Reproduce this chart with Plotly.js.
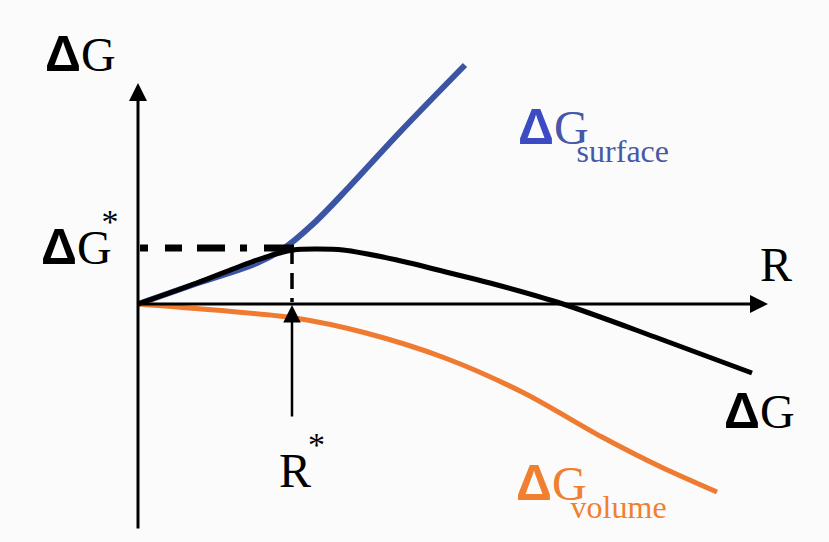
<!DOCTYPE html>
<html>
<head>
<meta charset="utf-8">
<script src="https://cdn.plot.ly/plotly-3.0.1.min.js"></script>
<style>html,body{margin:0;padding:0;background:#fbfbfb}</style>
</head>
<body>
<div id="chart" style="width:829px;height:542px"></div>
<script>
// radius R and free energy terms, arbitrary units
var rSurface = [0, 6, 11.9, 14.5, 17.5, 21.2, 26.2, 32.7];
var gSurface = [0, 2.1, 4.1, 5.5, 8.0, 11.8, 17.2, 23.9];

var rTotal = [0, 5.9, 11.9, 15.5, 17.9, 20.5, 25.9, 31.2, 35.2, 42.5, 51.7, 61.4];
var gTotal = [0, 2.1, 4.4, 5.4, 5.5, 5.4, 4.4, 3.1, 2.1, 0, -3.3, -6.9];

var rVolume = [0, 5.1, 15.7, 22.8, 30.7, 38.6, 46.4, 52.3, 57.9];
var gVolume = [0, -0.4, -1.4, -2.9, -5.4, -8.9, -13.3, -16.3, -18.8];

// critical radius and barrier height
var rStar = 15.4;
var gStar = 5.6;

var serif = 'Liberation Serif, Times New Roman, serif';
var delta = '<span style="font-family:Liberation Sans;font-weight:bold;font-size:50px">\u0394</span>';

function sub(g, text, gap) {
  return g + '<span style="letter-spacing:' + gap + 'px">G</span>' +
    '<span style="font-size:32px;baseline-shift:-18px">' + text + '</span>';
}
function star(g, gap) {
  return g + '<span style="letter-spacing:' + gap + 'px">' + (g ? 'G' : 'R') + '</span>' +
    '<span style="font-size:34px;baseline-shift:31px">*</span>';
}

var surface = {
  x: rSurface, y: gSurface, mode: 'lines', hoverinfo: 'skip',
  line: {color: '#3b55a3', width: 6, shape: 'spline', smoothing: 1}
};
var volume = {
  x: rVolume, y: gVolume, mode: 'lines', hoverinfo: 'skip',
  line: {color: '#ee7b30', width: 5, shape: 'spline', smoothing: 0.8}
};
var total = {
  x: rTotal, y: gTotal, mode: 'lines', hoverinfo: 'skip',
  line: {color: 'black', width: 5, shape: 'spline', smoothing: 0.8}
};
var hDash = {
  x: [0.2, rStar + 0.2], y: [gStar, gStar], mode: 'lines', hoverinfo: 'skip',
  line: {color: 'black', width: 7, dash: '8px,17px,17px,15px,28px,15px,7px,17px,40px'}
};
var vDash = {
  x: [rStar, rStar], y: [gStar, 0.2], mode: 'lines', hoverinfo: 'skip',
  line: {color: 'black', width: 3.5, dash: '16px,9px'}
};

var data = [surface, volume, total, hDash, vDash];

function label(x, y, text, anchor, color) {
  return {x: x, y: y, text: text, showarrow: false, xanchor: 'left', yanchor: anchor,
          font: {family: serif, size: 48, color: color}};
}
function arrow(x, y, ax, ay, w, s) {
  return {x: x, y: y, ax: ax, ay: ay, axref: 'x', ayref: 'y', text: '',
          showarrow: true, arrowhead: 2, arrowwidth: w, arrowsize: s, arrowcolor: 'black'};
}

var layout = {
  width: 829,
  height: 542,
  margin: {l: 0, r: 0, t: 0, b: 0},
  paper_bgcolor: '#fbfbfb',
  plot_bgcolor: '#fbfbfb',
  showlegend: false,
  xaxis: {range: [-13.8, 69.1], visible: false, fixedrange: true},
  yaxis: {range: [-23.8, 30.4], visible: false, fixedrange: true},
  annotations: [
    arrow(63, 0, 0, 0, 3, 1.2),
    arrow(0, 22.1, 0, -22.6, 3, 1.2),
    arrow(rStar, -0.1, rStar, -11.4, 2.5, 1.4),
    label(-9.5, 28.0, delta + 'G', 'top', 'black'),
    label(-9.9, 2.7, star(delta, -10), 'bottom', 'black'),
    label(62.0, 6.8, 'R', 'top', 'black'),
    label(58.4, -7.7, delta + 'G', 'top', 'black'),
    label(13.9, -19.5, star('', -3), 'bottom', 'black'),
    label(37.8, 20.7, sub('<span style="color:#3c4bc4">' + delta + '</span>', 'surface', -12), 'top', '#4658a8'),
    label(37.6, -14.9, sub(delta, 'volume', -16), 'top', '#f0802f')
  ]
};

Plotly.newPlot('chart', data, layout, {staticPlot: true});
</script>
</body>
</html>
